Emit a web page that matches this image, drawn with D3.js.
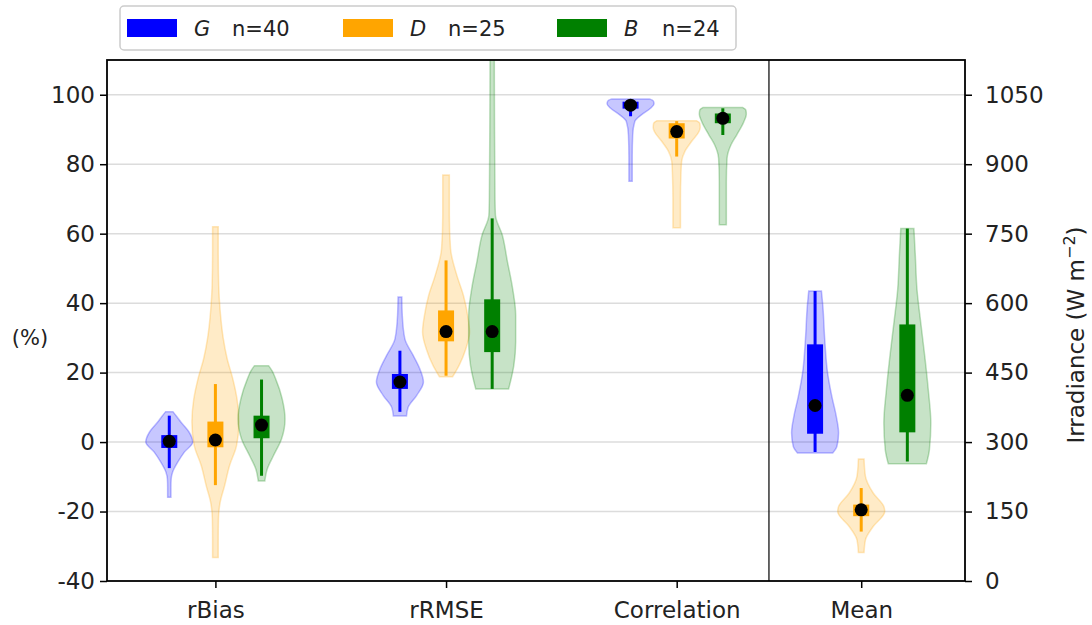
<!DOCTYPE html>
<html>
<head>
<meta charset="utf-8">
<script src="https://cdn.jsdelivr.net/npm/d3@7"></script>
<style>
  body { margin: 0; background: #fff; }
  text { font-family: "DejaVu Sans", sans-serif; }
</style>
</head>
<body>
<svg id="chart"></svg>
<script>
var width = 1092,
    height = 625;

// categories and groups
var metrics = ["rBias", "rRMSE", "Correlation", "Mean"];
var metricPos = [0, 1, 2, 2.8];
var groups = ["G", "D", "B"];
var counts = [40, 25, 24];
var leftTicks = [-40, -20, 0, 20, 40, 60, 80, 100];
var rightTicks = [0, 150, 300, 450, 600, 750, 900, 1050];

// violin outlines: [value, relative density] per metric (Mean in W m-2)
var violinG = [
  [[8.7,0.16],[7.5,0.3],[5.7,0.5],[2.9,0.84],[0,1],[-2.9,0.64],[-5.8,0.36],[-8.7,0.14],[-10.6,0.08],[-13,0.07],[-15.9,0.07]],
  [[41.8,0.08],[36.5,0.1],[29.7,0.21],[24.9,0.57],[21,0.85],[17.3,1],[13.4,0.71],[10,0.35],[7.5,0.28]],
  [[98.8,0.8],[98.2,0.97],[97.4,1],[96.1,0.85],[94.2,0.46],[92.3,0.18],[88.4,0.09],[82,0.07],[75.1,0.07]],
  [[626,0.27],[594,0.33],[522,0.41],[450,0.53],[399,0.71],[356,0.9],[320,1],[291,0.93],[276.5,0.75]]
];
var violinD = [
  [[62,0.12],[55,0.12],[45,0.14],[38,0.2],[30,0.33],[24,0.5],[18.2,0.74],[12.4,0.92],[5.8,1],[-1,0.9],[-6.8,0.6],[-12.6,0.39],[-17.4,0.2],[-22,0.13],[-28,0.12],[-33.2,0.12]],
  [[76.9,0.14],[65.3,0.14],[55.7,0.19],[48,0.46],[42.2,0.74],[36.4,0.92],[31.7,1],[26.8,0.84],[22,0.55],[18.8,0.28]],
  [[92.5,0.85],[91.8,0.98],[90.6,1],[89.4,0.95],[86.6,0.64],[83.7,0.35],[80.8,0.21],[77,0.18],[70,0.16],[61.7,0.16]],
  [[263.5,0.12],[226,0.18],[190,0.51],[160,0.97],[150,1],[117.6,0.51],[88.8,0.18],[61.3,0.12]]
];
var violinB = [
  [[22,0.3],[20.5,0.45],[18.2,0.6],[12.4,0.88],[6.6,1],[0.9,0.85],[-4,0.5],[-7.8,0.24],[-11.2,0.14]],
  [[115,0.09],[90,0.1],[70,0.12],[65.3,0.14],[59.6,0.43],[51.9,0.65],[44.2,0.87],[36.5,1],[28.8,1],[22,0.92],[15.3,0.7]],
  [[96.3,0.85],[95.6,0.98],[94.4,1],[92.3,0.9],[88.4,0.59],[85.6,0.35],[81.7,0.18],[75,0.15],[62.6,0.15]],
  [[761,0.28],[702,0.34],[630,0.41],[558,0.57],[486,0.74],[413.5,0.89],[341,1],[283.6,0.94],[253,0.81]]
];

// whiskers [low, high], boxes [q1, q3], dots (centre value)
var whiskerG = [[-7.5,7.6],[8.7,26.3],[93.8,98.1],[278.6,626]];
var whiskerD = [[-12.4,16.7],[19.1,52.3],[82.2,92.4],[106.7,200.7]];
var whiskerB = [[-9.7,18],[15.3,64.4],[88.4,96.1],[258,761]];
var boxG = [[-1.7,2],[15.3,19.6],[96,98],[318,511]];
var boxD = [[-1.5,5.9],[29,37.9],[87.4,91.8],[140,165]];
var boxB = [[1.1,7.6],[25.9,41.1],[91.8,94.6],[321,554]];
var dotG = [0.2, 17.3, 97, 379];
var dotD = [0.6, 31.8, 89.4, 153.7];
var dotB = [4.9, 31.8, 93.2, 401];

var colors = ["#0000ff", "#ffa500", "#008000"];
var offsets = [-0.2, 0, 0.2];
var violins = [violinG, violinD, violinB];
var whiskers = [whiskerG, whiskerD, whiskerB];
var boxes = [boxG, boxD, boxB];
var dots = [dotG, dotD, dotB];

var pLeft = 107, pRight = 965, pTop = 60, pBottom = 581;
var maxHalf = 23.5;

var svg = d3.select('#chart')
            .attr('width', width)
            .attr('height', height);

var x = d3.scaleLinear().domain([-0.47, 3.25]).range([pLeft, pRight]);
var y = d3.scaleLinear().domain([-40, 110]).range([pBottom, pTop]);
var yR = d3.scaleLinear().domain([0, 1125]).range([pBottom, pTop]);

svg.append('defs').append('clipPath').attr('id', 'plotclip')
   .append('rect')
     .attr('x', pLeft).attr('y', pTop)
     .attr('width', pRight - pLeft).attr('height', pBottom - pTop);

// grid
svg.append('g')
   .selectAll('line')
   .data(leftTicks.slice(1))
   .enter()
   .append('line')
     .attr('x1', pLeft).attr('x2', pRight)
     .attr('y1', d => y(d)).attr('y2', d => y(d))
     .attr('stroke', '#dcdcdc')
     .attr('stroke-width', 1.5);

var plot = svg.append('g').attr('clip-path', 'url(#plotclip)');

for (var g = 0; g < groups.length; g++) {
  for (var m = 0; m < metrics.length; m++) {
    var ys = (m == 3) ? yR : y;
    var cx = x(metricPos[m] + offsets[g]);
    var area = d3.area()
                 .curve(d3.curveMonotoneY)
                 .y(d => ys(d[0]))
                 .x0(d => cx - d[1] * maxHalf)
                 .x1(d => cx + d[1] * maxHalf);
    plot.append('path')
        .datum(violins[g][m].slice().reverse())
        .attr('d', area)
        .attr('fill', colors[g])
        .attr('fill-opacity', 0.22)
        .attr('stroke', colors[g])
        .attr('stroke-opacity', 0.25)
        .attr('stroke-width', 1.5);

    plot.append('line')
        .attr('x1', cx).attr('x2', cx)
        .attr('y1', ys(whiskers[g][m][0]))
        .attr('y2', ys(whiskers[g][m][1]))
        .attr('stroke', colors[g])
        .attr('stroke-width', 3);

    plot.append('rect')
        .attr('x', cx - 8)
        .attr('width', 16)
        .attr('y', ys(boxes[g][m][1]))
        .attr('height', ys(boxes[g][m][0]) - ys(boxes[g][m][1]))
        .attr('fill', colors[g]);
  }
}

for (var g = 0; g < groups.length; g++) {
  for (var m = 0; m < metrics.length; m++) {
    var ys = (m == 3) ? yR : y;
    plot.append('circle')
        .attr('cx', x(metricPos[m] + offsets[g]))
        .attr('cy', ys(dots[g][m]))
        .attr('r', 6.5)
        .attr('fill', '#000');
  }
}

// divider between percent metrics and Mean
svg.append('line')
   .attr('x1', x(2.4)).attr('x2', x(2.4))
   .attr('y1', pTop).attr('y2', pBottom)
   .attr('stroke', '#000')
   .attr('stroke-width', 1.2);

// axes
var yAxis = svg.append('g')
   .attr('transform', 'translate(' + pLeft + ',0)')
   .call(d3.axisLeft(y).tickValues(leftTicks).tickSize(7).tickPadding(5).tickFormat(d => String(d)));

var yAxisR = svg.append('g')
   .attr('transform', 'translate(' + pRight + ',0)')
   .call(d3.axisRight(yR).tickValues(rightTicks).tickSize(7).tickPadding(13).tickFormat(d => String(d)));

var xAxis = svg.append('g')
   .attr('transform', 'translate(0,' + pBottom + ')')
   .call(d3.axisBottom(x).tickValues(metricPos).tickSize(7).tickPadding(14)
          .tickFormat((d, i) => metrics[i]));

[yAxis, yAxisR, xAxis].forEach(function(a) {
  a.select('.domain').remove();
  a.selectAll('.tick line').attr('stroke', '#000').attr('stroke-width', 1.5);
  a.selectAll('.tick text').style('font-size', '23px').attr('fill', '#222');
});

svg.append('rect')
   .attr('x', pLeft).attr('y', pTop)
   .attr('width', pRight - pLeft).attr('height', pBottom - pTop)
   .attr('fill', 'none')
   .attr('stroke', '#000')
   .attr('stroke-width', 1.8);

svg.append('text')
   .attr('x', 30).attr('y', 345)
   .style('text-anchor', 'middle')
   .style('font-size', '21px')
   .attr('fill', '#222')
   .text('(%)');

var rLabel = svg.append('text')
   .attr('transform', 'translate(1084,335) rotate(-90)')
   .style('text-anchor', 'middle')
   .style('font-size', '23px')
   .attr('fill', '#222');
rLabel.append('tspan').text('Irradiance (W m');
rLabel.append('tspan').attr('dy', -9).style('font-size', '16px').text('\u22122');
rLabel.append('tspan').attr('dy', 9).text(')');

// legend
var legend = svg.append('g');
legend.append('rect')
   .attr('x', 120).attr('y', 6)
   .attr('width', 616).attr('height', 44)
   .attr('rx', 4)
   .attr('fill', '#fff')
   .attr('stroke', '#cccccc')
   .attr('stroke-width', 1.5);

var legendX = [127, 343, 557];
groups.forEach(function(gname, i) {
  var lx = legendX[i];
  legend.append('rect')
     .attr('x', lx).attr('y', 19)
     .attr('width', 50).attr('height', 18)
     .attr('fill', colors[i]);
  legend.append('text')
     .attr('x', lx + 67).attr('y', 36)
     .style('font-size', '21px')
     .style('font-style', 'italic')
     .attr('fill', '#222')
     .text(gname);
  legend.append('text')
     .attr('x', lx + 105).attr('y', 36)
     .style('font-size', '21px')
     .attr('fill', '#222')
     .text('n=' + counts[i]);
});
</script>
</body>
</html>
